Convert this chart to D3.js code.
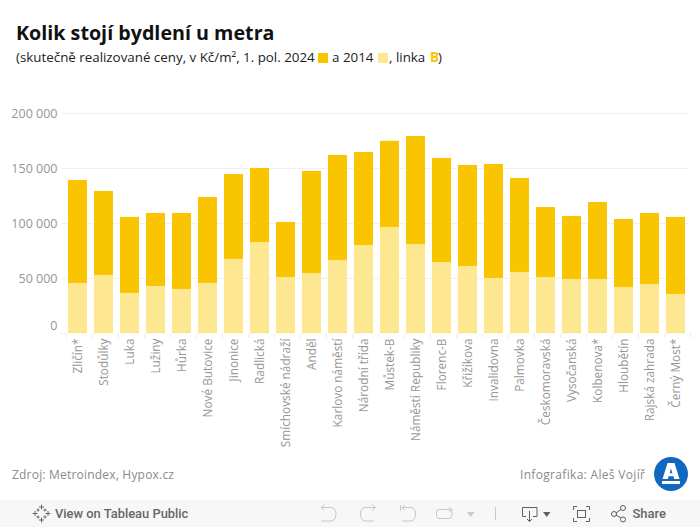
<!DOCTYPE html>
<html><head><meta charset="utf-8">
<script src="https://cdn.jsdelivr.net/npm/d3@7"></script>
<style>html,body{margin:0;padding:0;background:#fff;overflow:hidden}svg{display:block}text{font-family:"Open Sans","Noto Sans",sans-serif}</style>
</head><body><div id="c"></div>
<script>
const stations = ["Zličín*","Stodůlky","Luka","Lužiny","Hůrka","Nové Butovice","Jinonice","Radlická","Smíchovské nádraží","Anděl","Karlovo náměstí","Národní třída","Můstek-B","Náměstí Republiky","Florenc-B","Křižíkova","Invalidovna","Palmovka","Českomoravská","Vysočanská","Kolbenova*","Hloubětín","Rajská zahrada","Černý Most*"];
const price2024 = [139400,129400,105800,109400,109400,123900,144800,150300,101200,147600,162100,164800,175000,179400,159400,153000,153900,141200,114800,106700,119400,103900,109400,105800];
const price2014 = [45750,53000,36700,43000,40300,45750,67600,83000,51200,54800,66700,80300,96700,81200,64800,61200,50300,55800,51200,49400,49400,42100,44800,35800];
const yTicks = [0,50000,100000,150000,200000];

const W=700,H=527;
const svg=d3.select("#c").append("svg").attr("width",W).attr("height",H);
const x=d3.scaleBand().domain(stations).range([64.5,688.5]).paddingInner(0.27).paddingOuter(0.135);
const y=d3.scaleLinear().domain([0,200000]).range([333.3,113.3]);
const fmt=d=>d3.format(",")(d).replace(/,/g," ");

svg.append("g").selectAll("line").data(yTicks.filter(d=>d>0)).join("line")
 .attr("x1",61).attr("x2",688).attr("y1",d=>Math.round(y(d))+.5).attr("y2",d=>Math.round(y(d))+.5)
 .attr("stroke","#f0f0f0").attr("stroke-width",1);
svg.append("g").selectAll("text").data(yTicks).join("text")
 .attr("x",57.5).attr("y",d=>d===0?y(d)-3:y(d)+4.5).attr("text-anchor","end")
 .attr("font-size",12.5).attr("fill","#969696").text(fmt);
svg.append("g").selectAll("rect").data(stations).join("rect")
 .attr("x",d=>x(d)).attr("width",x.bandwidth())
 .attr("y",(d,i)=>y(price2024[i])).attr("height",(d,i)=>y(0)-y(price2024[i])-.6).attr("fill","#f9c500");
svg.append("g").selectAll("rect").data(stations).join("rect")
 .attr("x",d=>x(d)).attr("width",x.bandwidth())
 .attr("y",(d,i)=>y(price2014[i])).attr("height",(d,i)=>y(0)-y(price2014[i])-.6).attr("fill","#fee791");
svg.append("line").attr("x1",60).attr("x2",66).attr("y1",333.5).attr("y2",333.5).attr("stroke","#f0f0f0");
const step=x.step();
svg.append("g").selectAll("line").data(d3.range(stations.length+1)).join("line")
 .attr("x1",i=>Math.round(65.5+i*step)+.5).attr("x2",i=>Math.round(65.5+i*step)+.5).attr("y1",333).attr("y2",338)
 .attr("stroke","#ececec");
svg.append("g").selectAll("text").data(stations).join("text")
 .attr("transform",d=>`translate(${x(d)+x.bandwidth()/2+4.5},338.5) rotate(-90)`)
 .attr("text-anchor","end").attr("font-size",11.8).attr("fill","#969696").text(d=>d);

svg.append("text").attr("x",16).attr("y",40).attr("font-size",19.7).attr("font-weight",700).attr("fill","#111").text("Kolik stojí bydlení u metra");
const sub=svg.append("text").attr("x",16).attr("y",62).attr("font-size",13.35).attr("fill","#222");
sub.append("tspan").text("(skutečně realizované ceny, v Kč/m², 1. pol. 2024");
sub.append("tspan").attr("x",332).text("a 2014");
sub.append("tspan").attr("x",389).text(", linka");
sub.append("tspan").attr("x",430).attr("fill","#f9c500").attr("font-weight",700).text("B");
sub.append("tspan").attr("x",438).text(")");
svg.append("rect").attr("x",318).attr("y",53).attr("width",10).attr("height",10).attr("fill","#f9c500");
svg.append("rect").attr("x",378).attr("y",53).attr("width",10).attr("height",10).attr("fill","#fee791");

svg.append("text").attr("x",12).attr("y",479).attr("font-size",12).attr("fill","#8a8a8a").attr("letter-spacing",.2).text("Zdroj: Metroindex, Hypox.cz");
svg.append("text").attr("x",520).attr("y",479).attr("font-size",12).attr("fill","#8a8a8a").attr("letter-spacing",.32).text("Infografika: Aleš Vojíř");
const lg=svg.append("g").attr("transform","translate(671,474)");
lg.append("circle").attr("r",17).attr("fill","#1268c0");
lg.append("path").attr("d","M-3.5,-11H3.5L8.5,5H3.2L2.4,2.2H-2.4L-3.2,5H-8.5ZM0,-5.5L-1.4,-0.8H1.4Z").attr("fill","#fff").attr("fill-rule","evenodd");
lg.append("rect").attr("x",-9).attr("y",7).attr("width",18).attr("height",3).attr("fill","#fff");

svg.append("rect").attr("x",0).attr("y",500).attr("width",W).attr("height",27).attr("fill","#f7f7f7");
svg.append("text").attr("x",55).attr("y",518).attr("font-size",12.9).attr("font-weight",500).attr("fill","#666").attr("style","font-family:Roboto").text("View on Tableau Public");
svg.append("text").attr("x",632.5).attr("y",518).attr("font-size",13).attr("font-weight",500).attr("fill","#666").attr("style","font-family:Roboto").text("Share");
const ic=svg.append("g").attr("fill","none").attr("stroke","#c8c8c8").attr("stroke-width",1);
ic.append("path").attr("d","M321,507.5H330Q336,507.5 336,514Q336,521 330,521H321M321,507.5L324.5,504.5M321,507.5L324.5,510.5");
ic.append("path").attr("d","M375.500,507.500H366Q360.500,507.500 360.500,514Q360.500,521 366,521H374M375.500,507.500L372,504.500M375.500,507.500L372,510.500");
ic.append("path").attr("d","M402,507.500H410Q415.500,507.500 415.500,514Q415.500,521 410,521H402M402,507.500L405,505M402,507.500L405,510M400.500,505V511");
ic.append("path").attr("d","M452,510V515Q452,518.500 449,518.500H439Q436.500,518.500 436.500,515V512Q436.500,509.500 439,509.500H452M452,509.500L449,507M452,509.500L449,512");
ic.append("path").attr("d","M495.500,507V520");
svg.append("path").attr("d","M467,512H474.500L470.700,517Z").attr("fill","#c8c8c8");
const id=svg.append("g").attr("fill","none").attr("stroke","#5f5f5f").attr("stroke-width",1);
id.append("path").attr("d","M526,516.500H522.500V507.500H537V516.500H533M529.500,511V521.500M527,519L529.500,521.500L532,519");
svg.append("path").attr("d","M543,512H550.500L546.700,517Z").attr("fill","#5f5f5f");
id.append("path").attr("d","M573.500,510V506.500H577M586,506.500H589.500V510M589.500,518V521.500H586M577,521.500H573.500V518");
id.append("rect").attr("x",577.5).attr("y",510.5).attr("width",8).attr("height",7);
id.append("path").attr("d","M616,513L621,509.500M616,515L621,518");
id.append("circle").attr("cx",614).attr("cy",514).attr("r",2.5);
id.append("circle").attr("cx",623).attr("cy",508).attr("r",2.5);
id.append("circle").attr("cx",623).attr("cy",519.500).attr("r",2.5);
const tb=svg.append("g").attr("transform","translate(41.5,513.5)").attr("stroke","#666").attr("stroke-width",1).attr("fill","none");
[[0,-6.5,2.5],[0,6.5,2.5],[-6.5,0,2.5],[6.5,0,2.5],[-3.5,-3.5,1.5],[3.5,-3.5,1.5],[-3.5,3.5,1.5],[3.5,3.5,1.5]].forEach(p=>{
 tb.append("path").attr("d",`M${p[0]-p[2]},${p[1]}H${p[0]+p[2]}M${p[0]},${p[1]-p[2]}V${p[1]+p[2]}`);
});
</script></body></html>
